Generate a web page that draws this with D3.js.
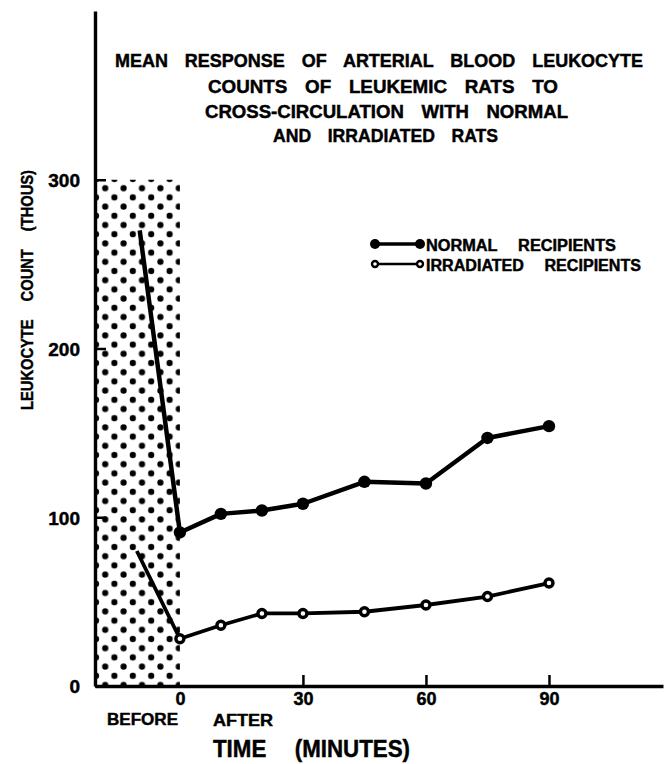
<!DOCTYPE html>
<html><head><meta charset="utf-8">
<script src="https://cdn.jsdelivr.net/npm/d3@7"></script>
<style>
body{margin:0;background:#fff;}
text{font-family:"Liberation Sans",Arial,sans-serif;font-weight:bold;fill:#000;stroke:#000;stroke-width:0.45px;}
</style></head>
<body>
<svg id="chart" width="665" height="764"></svg>
<script>
// ---- data ----
const timesNormal = [-9.8, 0, 10, 20, 30, 45, 60, 75, 90];
const normalValues = [270, 91, 102, 104, 108, 121, 120, 147, 154];
const timesIrradiated = [-10.5, 0, 10, 20, 30, 45, 60, 75, 90];
const irradiatedValues = [80, 28, 36, 43, 43, 44, 48, 53, 61];
const xTicks = [0, 30, 60, 90];
const yTicks = [0, 100, 200, 300];
const beforeLevel = 300;
const seriesNames = ["NORMAL RECIPIENTS", "IRRADIATED RECIPIENTS"];
const titleLines = [
  "MEAN RESPONSE OF ARTERIAL BLOOD LEUKOCYTE",
  "COUNTS OF LEUKEMIC RATS TO",
  "CROSS-CIRCULATION WITH NORMAL",
  "AND IRRADIATED RATS"
];

const svg = d3.select("#chart");
const x = d3.scaleLinear().domain([-20.7, 117.8]).range([95, 663]);
const y = d3.scaleLinear().domain([0, 400]).range([686, 11]);

// fixed word gap, then squeeze/stretch to target width
function fit(sel, target, gap){
  if(gap) sel.attr("word-spacing", gap+"px");
  sel.attr("textLength",target).attr("lengthAdjust","spacingAndGlyphs");
  return sel;
}

// dotted "before" region
const defs = svg.append("defs");
const pat = defs.append("pattern").attr("id","dots").attr("patternUnits","userSpaceOnUse")
  .attr("x",96).attr("y",179).attr("width",18.4).attr("height",18.4);
[[0,0],[18.4,0],[0,18.4],[18.4,18.4],[9.2,9.2]].forEach(p=>{
  pat.append("circle").attr("cx",p[0]).attr("cy",p[1]).attr("r",3.1).attr("fill","#000");
});
svg.append("rect").attr("x", x.range()[0]).attr("y", y(beforeLevel))
  .attr("width", x(0)-x.range()[0]).attr("height", y(0)-y(beforeLevel))
  .attr("fill","url(#dots)");

// axes
const yAxis = d3.axisLeft(y).tickValues(yTicks).tickSizeInner(-11).tickSizeOuter(0).tickPadding(15);
const gy = svg.append("g").attr("transform",`translate(${x.range()[0]},0)`).call(yAxis);
gy.select(".domain").attr("stroke-width",3.4);
gy.selectAll(".tick line").attr("stroke-width",2.5);
gy.selectAll(".tick text").attr("font-size",19).attr("font-family","Liberation Sans, Arial").attr("font-weight","bold").attr("dy","0.36em");

const xAxis = d3.axisBottom(x).tickValues(xTicks).tickSizeInner(-11).tickSizeOuter(0).tickPadding(6);
const gx = svg.append("g").attr("transform",`translate(0,${y(0)})`).call(xAxis);
gx.select(".domain").attr("stroke-width",3.4);
gx.selectAll(".tick line").attr("stroke-width",2.5);
gx.selectAll(".tick text").attr("font-size",18).attr("font-family","Liberation Sans, Arial").attr("font-weight","bold");
gx.selectAll(".tick").filter(d=>d===0).select("line").remove();

// lines
const line = d3.line().x(d=>x(d[0])).y(d=>y(d[1]));
const normal = timesNormal.map((t,i)=>[t, normalValues[i]]);
const irr = timesIrradiated.map((t,i)=>[t, irradiatedValues[i]]);
svg.append("path").datum(normal).attr("d",line).attr("fill","none").attr("stroke","#000").attr("stroke-width",4.5).attr("stroke-linejoin","round");
svg.append("path").datum(irr).attr("d",line).attr("fill","none").attr("stroke","#000").attr("stroke-width",3.8).attr("stroke-linejoin","round");
svg.selectAll(".np").data(normal.slice(1)).enter().append("circle")
  .attr("cx",d=>x(d[0])).attr("cy",d=>y(d[1])).attr("r",6.2).attr("fill","#000");
svg.selectAll(".ip").data(irr.slice(1)).enter().append("circle")
  .attr("cx",d=>x(d[0])).attr("cy",d=>y(d[1])).attr("r",4).attr("fill","#fff").attr("stroke","#000").attr("stroke-width",3.4);

// legend
const legY = [244, 264];
const legW = [190, 215];
seriesNames.forEach((name,i)=>{
  const g = svg.append("g");
  g.append("line").attr("x1",375).attr("x2",420).attr("y1",legY[i]).attr("y2",legY[i]).attr("stroke","#000").attr("stroke-width",i?2.6:3.6);
  [375,420].forEach(cx=>{
    if(i===0) g.append("circle").attr("cx",cx).attr("cy",legY[i]).attr("r",5).attr("fill","#000");
    else g.append("circle").attr("cx",cx).attr("cy",legY[i]).attr("r",3).attr("fill","#fff").attr("stroke","#000").attr("stroke-width",2.4);
  });
  const t = g.append("text").attr("x",426).attr("y",legY[i]+6.5).attr("font-size",16).text(name);
  fit(t, legW[i], 16);
});

// title
const titleSpec = [[115,67,528],[208,93,350],[205,118,363],[273,142,225]];
titleLines.forEach((s,i)=>{
  const t = svg.append("text").attr("x",titleSpec[i][0]).attr("y",titleSpec[i][1]).attr("font-size",18).text(s);
  fit(t, titleSpec[i][2], 12);
});

// axis titles
const yt = svg.append("text").attr("transform","translate(33,290) rotate(-90)").attr("text-anchor","middle")
  .attr("font-size",17).text("LEUKOCYTE COUNT (THOUS)");
fit(yt, 240, 16);
fit(svg.append("text").attr("x",107).attr("y",725).attr("font-size",16).text("BEFORE"), 71);
fit(svg.append("text").attr("x",213).attr("y",726).attr("font-size",16).text("AFTER"), 60);
const tt = svg.append("text").attr("x",213).attr("y",757).attr("font-size",24).attr("font-weight","normal").text("TIME (MINUTES)");
fit(tt, 197, 24);
</script>
</body></html>
